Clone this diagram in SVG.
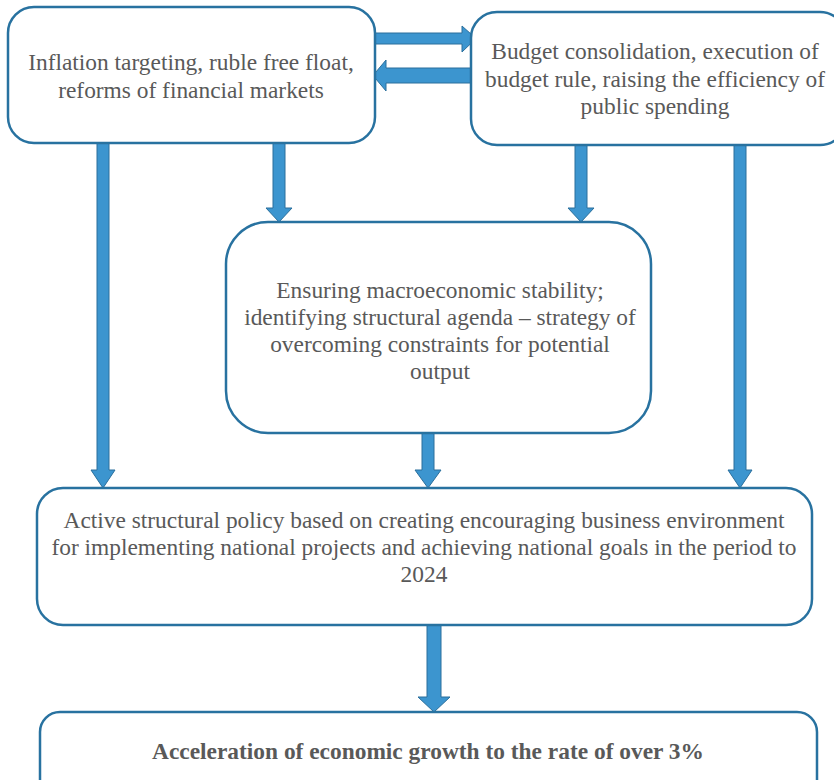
<svg xmlns="http://www.w3.org/2000/svg" width="834" height="780" viewBox="0 0 834 780">
<style>
.box{fill:#fff;stroke:#2872a0;stroke-width:2.5}
.arr{fill:#3c95cf;stroke:#2a6f9c;stroke-width:1}
text{font-family:"Liberation Serif","Times New Roman",serif;font-size:23.4px;fill:#595959;text-anchor:middle}
.b{font-weight:bold}
</style>
<rect width="834" height="780" fill="#fff"/>
<g id="connectors">
<path class="arr" d="M375,33 H462 V26 L476,38.5 L462,52 V44 H375 Z"/>
<path class="arr" d="M472,68 H386 V60 L373,75.5 L386,91 V83 H472 Z"/>
<path class="arr" d="M97,143 H109 V470 H115 L103,488 L91,470 H97 Z"/>
<path class="arr" d="M273,143 H285 V208 H292 L279,222 L266,208 H273 Z"/>
<path class="arr" d="M575,145 H587 V208 H594 L581,222 L568,208 H575 Z"/>
<path class="arr" d="M734,145 H746 V470 H752 L740,488 L728,470 H734 Z"/>
<path class="arr" d="M422,433 H434 V470 H441 L428,488 L415,470 H422 Z"/>
<path class="arr" d="M427,625 H441 V697 H450 L434,712 L418,697 H427 Z"/>
</g>
<g id="n1">
<rect class="box" x="8" y="7" width="367" height="136" rx="26"/>
<text x="191" y="70">Inflation targeting, ruble free float,</text>
<text x="191" y="98">reforms of financial markets</text>
</g>
<g id="n2">
<rect class="box" x="471" y="12" width="375" height="133" rx="26"/>
<text x="655" y="59">Budget consolidation, execution of</text>
<text x="655" y="87">budget rule, raising the efficiency of</text>
<text x="655" y="114">public spending</text>
</g>
<g id="n3">
<rect class="box" x="226" y="222" width="425" height="211" rx="42"/>
<text x="440" y="298">Ensuring macroeconomic stability;</text>
<text x="440" y="325">identifying structural agenda – strategy of</text>
<text x="440" y="352">overcoming constraints for potential</text>
<text x="440" y="379">output</text>
</g>
<g id="n4">
<rect class="box" x="37" y="488" width="775" height="137" rx="26"/>
<text x="424" y="528">Active structural policy based on creating encouraging business environment</text>
<text x="424" y="555">for implementing national projects and achieving national goals in the period to</text>
<text x="424" y="582">2024</text>
</g>
<g id="n5">
<rect class="box" x="40" y="712" width="777" height="90" rx="20"/>
<text class="b" x="428" y="759">Acceleration of economic growth to the rate of over 3%</text>
</g>
</svg>
